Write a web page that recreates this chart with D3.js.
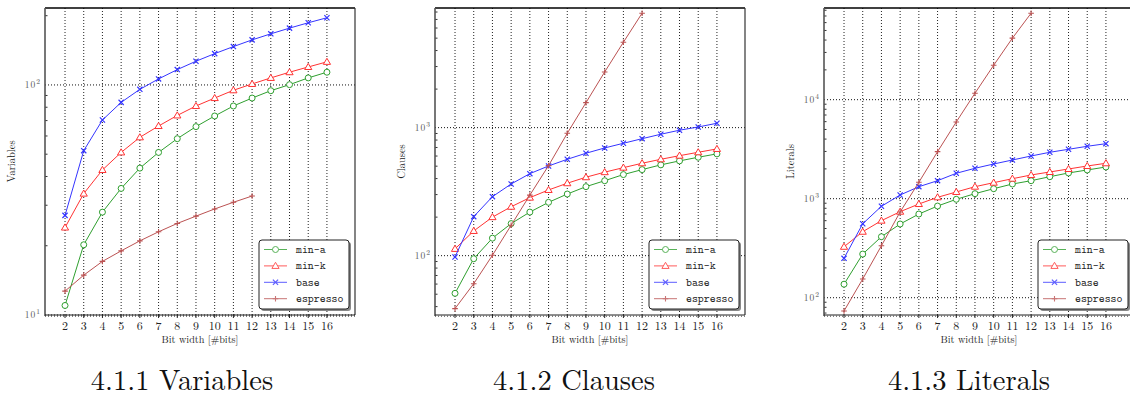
<!DOCTYPE html>
<html><head><meta charset="utf-8">
<script src="https://cdn.jsdelivr.net/npm/d3@7"></script>
<style>body{margin:0;background:#fff}svg{display:block}</style>
</head><body>
<svg id="c" width="1130" height="399"></svg>
<script>
// ---------- data ----------
const bits = [2,3,4,5,6,7,8,9,10,11,12,13,14,15,16];
const espressoBits = [2,3,4,5,6,7,8,9,10,11,12];
const seriesNames = ["min-a","min-k","base","espresso"];
const xTickLabels = ["2","3","4","5","6","7","8","9","10","11","12","13","14","15","16"];

const varMinA = [11.0,20.2,28.0,35.5,43.5,50.9,58.4,65.9,73.3,81.0,87.7,94.4,100.3,107.3,113.6];
const varMinK = [24.0,33.7,42.7,50.9,59.2,66.3,73.7,81.0,87.7,94.8,101,107.3,113.6,119.7,126];
const varBase = [27.1,51.8,70.4,84.0,95.7,106.2,116.6,126.8,136.8,146.8,157,166.8,176.6,186.3,195.9];
const varEspresso = [12.7,14.9,17.1,19.0,21.0,23.0,25.0,26.9,28.9,30.9,32.9];

const claMinA = [50.8,94.7,137,178,219,261,303,346,385,430,470,512,550,587,624];
const claMinK = [113,156,200,241,284,326,368,410,449,487,527,566,604,642,682];
const claBase = [97.7,201.7,289,363,437,502,566,631,694,755,820,888,955,1012,1082];
const claEspresso = [38.6,60.4,100.7,173,297,505,904,1567,2722,4645,7834];

const litMinA = [137,276,413,555,700,843,986,1124,1262,1407,1520,1668,1819,1950,2090];
const litMinK = [327,464,600,739,884,1033,1169,1322,1451,1592,1735,1861,1996,2139,2279];
const litBase = [250,558,838,1090,1322,1520,1806,2028,2241,2459,2699,2942,3155,3382,3594];
const litEspresso = [73.4,154.6,335,735,1464,2985,5956,11620,22260,41800,74650];

const yLabels = ["Variables","Clauses","Literals"];
const captions = ["4.1.1 Variables","4.1.2 Clauses","4.1.3 Literals"];
const yDomains = [[10,216],[34.4,8600],[66.9,84300]];
const yMajorExps = [[1,2],[2,3],[2,3,4]];

// ---------- layout ----------
const colors = {"min-a":"#2f9f2f","min-k":"#ff3333","base":"#3535ff","espresso":"#bb5252"};
const panels = [
  {left:45, data:[varMinA,varMinK,varBase,varEspresso]},
  {left:435, data:[claMinA,claMinK,claBase,claEspresso]},
  {left:824, data:[litMinA,litMinK,litBase,litEspresso]}
];
const plotTop = 8, plotBottom = 315, pw = 310;
const svg = d3.select("#c");
const serif = "'Latin Modern Roman', 'Liberation Serif', serif";
const mono = "'Latin Modern Mono', 'Liberation Mono', monospace";

function marker(g, name, x, y, col) {
  if (name === "min-a") {
    g.append("circle").attr("cx",x).attr("cy",y).attr("r",3).attr("fill","#fff").attr("stroke",col).attr("stroke-width",1);
  } else if (name === "min-k") {
    const s = 3.6;
    g.append("path").attr("d",`M${x},${y-s}L${x+s},${y+s*0.7}L${x-s},${y+s*0.7}Z`).attr("fill","#fff").attr("stroke",col).attr("stroke-width",1);
  } else if (name === "base") {
    const s = 2.6;
    g.append("path").attr("d",`M${x-s},${y-s}L${x+s},${y+s}M${x-s},${y+s}L${x+s},${y-s}`).attr("stroke",col).attr("stroke-width",1.2);
  } else {
    const s = 2.8;
    g.append("path").attr("d",`M${x-s},${y}L${x+s},${y}M${x},${y-s}L${x},${y+s}`).attr("stroke",col).attr("stroke-width",1.1);
  }
}

panels.forEach((p, pi) => {
  const g = svg.append("g");
  const x = d3.scaleLinear().domain([0.93,17.5]).range([p.left, p.left+pw]);
  const y = d3.scaleLog().domain(yDomains[pi]).range([plotBottom, plotTop]);

  g.selectAll(".vg").data(bits).join("line")
    .attr("x1",d=>x(d)).attr("x2",d=>x(d)).attr("y1",plotTop).attr("y2",plotBottom)
    .attr("stroke","#222").attr("stroke-width",1).attr("stroke-dasharray","1,2");
  const majors = yMajorExps[pi].map(e=>Math.pow(10,e));
  g.selectAll(".hg").data(majors).join("line")
    .attr("x1",p.left).attr("x2",p.left+pw).attr("y1",d=>y(d)).attr("y2",d=>y(d))
    .attr("stroke","#111").attr("stroke-width",1).attr("stroke-dasharray","1,2");

  const [d0,d1] = yDomains[pi];
  const minors = [];
  for (let e=Math.floor(Math.log10(d0)); e<=Math.ceil(Math.log10(d1)); e++)
    for (let k=2;k<=9;k++){ const v=k*Math.pow(10,e); if(v>=d0&&v<=d1) minors.push(v); }
  g.selectAll(".mt").data(minors).join("line")
    .attr("x1",p.left).attr("x2",p.left+2.5).attr("y1",d=>y(d)).attr("y2",d=>y(d))
    .attr("stroke","#333").attr("stroke-width",1);

  g.append("line").attr("x1",p.left).attr("x2",p.left+pw).attr("y1",plotTop).attr("y2",plotTop).attr("stroke","#000").attr("stroke-width",1.5);
  g.append("line").attr("x1",p.left+pw).attr("x2",p.left+pw).attr("y1",plotTop).attr("y2",plotBottom).attr("stroke","#333").attr("stroke-width",1.2);
  g.append("line").attr("x1",p.left).attr("x2",p.left).attr("y1",plotTop).attr("y2",plotBottom+1).attr("stroke","#555").attr("stroke-width",1.6);
  g.append("line").attr("x1",p.left).attr("x2",p.left+pw).attr("y1",plotBottom).attr("y2",plotBottom).attr("stroke","#222").attr("stroke-width",1.2);
  g.append("line").attr("x1",p.left).attr("x2",p.left+pw).attr("y1",plotBottom+1.2).attr("y2",plotBottom+1.2).attr("stroke","#444").attr("stroke-width",1).attr("stroke-dasharray","1,2");

  g.selectAll(".xt").data(bits).join("line")
    .attr("x1",d=>x(d)).attr("x2",d=>x(d)).attr("y1",plotBottom).attr("y2",plotBottom+3).attr("stroke","#222");
  g.selectAll(".xl").data(bits).join("text")
    .attr("x",d=>x(d)).attr("y",plotBottom+15).attr("text-anchor","middle")
    .attr("font-family",serif).attr("font-size",12).attr("fill","#222")
    .text((d,i)=>xTickLabels[i]);
  g.append("text").attr("x",p.left+pw*0.5).attr("y",plotBottom+28).attr("text-anchor","middle")
    .attr("font-family",serif).attr("font-size",10.2).attr("fill","#222").text("Bit width [#bits]");
  g.append("text").attr("transform",`translate(${p.left-30},${(plotTop+plotBottom)/2}) rotate(-90)`)
    .attr("text-anchor","middle").attr("font-family",serif).attr("font-size",10.5).attr("fill","#222").text(yLabels[pi]);
  yMajorExps[pi].forEach(e => {
    const t = g.append("text").attr("x",p.left-5).attr("y",y(Math.pow(10,e))+3).attr("text-anchor","end")
      .attr("font-family",serif).attr("font-size",9.5).attr("fill","#555");
    t.append("tspan").text("10").attr("letter-spacing",1);
    t.append("tspan").attr("dy",-4).attr("font-size",7.5).text(String(e));
  });

  seriesNames.forEach((name, si) => {
    const vals = p.data[si];
    const xs = name === "espresso" ? espressoBits : bits;
    const pts = xs.map((b,i)=>[x(b), y(vals[i])]);
    g.append("path").attr("d", d3.line()(pts)).attr("fill","none")
      .attr("stroke",colors[name]).attr("stroke-width",1);
    pts.forEach(pt => marker(g, name, pt[0], pt[1], colors[name]));
  });

  const lr = p.left + pw - 6, lw = 90, lx = lr - lw, ly = 240, lh = 69;
  g.append("rect").attr("x",lx+2).attr("y",ly+2).attr("width",lw).attr("height",lh).attr("rx",3).attr("fill","#888");
  g.append("rect").attr("x",lx).attr("y",ly).attr("width",lw).attr("height",lh).attr("rx",3).attr("fill","#fff").attr("stroke","#222").attr("stroke-width",1);
  seriesNames.forEach((name, si) => {
    const yy = ly + 9.5 + si*16.4;
    const lg = g.append("g").attr("opacity",0.8);
    lg.append("line").attr("x1",lx+5).attr("x2",lx+28).attr("y1",yy).attr("y2",yy).attr("stroke",colors[name]).attr("stroke-width",1);
    marker(lg, name, lx+16.5, yy, colors[name]);
    g.append("text").attr("x",lx+37).attr("y",yy+3.5).attr("font-family",mono).attr("font-size",11.3).attr("fill","#222").text(name);
  });

  svg.append("text").attr("x",[182,574,969][pi]).attr("y",390).attr("text-anchor","middle")
    .attr("font-family",serif).attr("font-size",28.5).attr("fill","#111").text(captions[pi]);
});
</script>
</body></html>
